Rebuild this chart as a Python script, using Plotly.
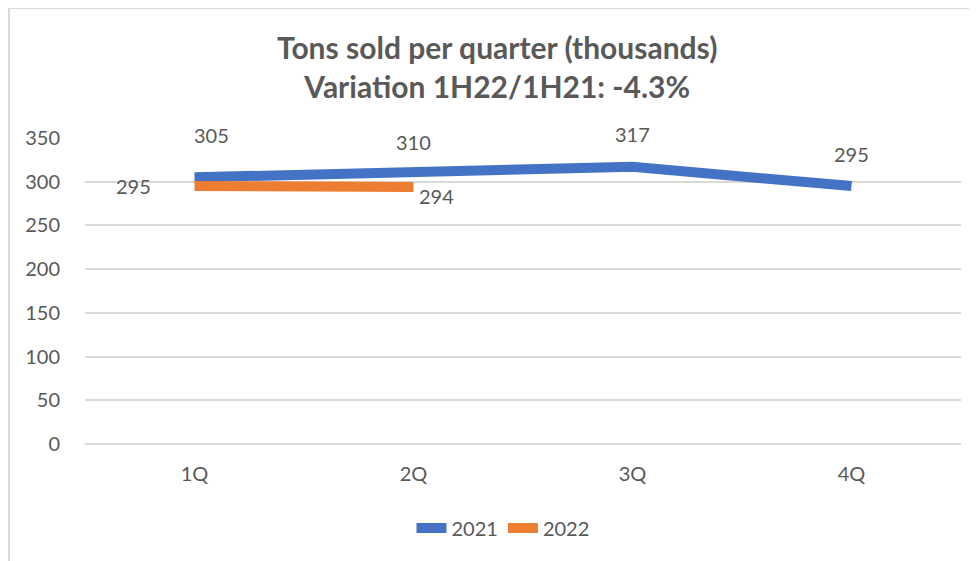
import plotly.graph_objects as go

quarters = ["1Q", "2Q", "3Q", "4Q"]
tons_2021 = [305, 310, 317, 295]
tons_2022 = [295, 294]
# label offsets (px) for data labels
off_2021 = [(17, 42), (0, 31), (0, 33), (0, 32)]
off_2022 = [(-61, 0), (23, -9)]

BLUE = "#4472C4"
ORANGE = "#ED7D31"
GRAY = "#595959"
FONT = "Lato"

fig = go.Figure()
fig.add_trace(go.Scatter(x=quarters, y=tons_2021, mode="lines", name="2021",
                         line=dict(color=BLUE, width=10)))
fig.add_trace(go.Scatter(x=quarters[:len(tons_2022)], y=tons_2022, mode="lines", name="2022",
                         line=dict(color=ORANGE, width=10)))

ann = []
for q, v, (dx, dy) in zip(quarters, tons_2021, off_2021):
    ann.append(dict(x=q, y=v, text=str(v), showarrow=False, xshift=dx, yshift=dy,
                    font=dict(family=FONT, size=20, color=GRAY)))
for q, v, (dx, dy) in zip(quarters, tons_2022, off_2022):
    ann.append(dict(x=q, y=v, text=str(v), showarrow=False, xshift=dx, yshift=dy,
                    font=dict(family=FONT, size=20, color=GRAY)))

# page has an 8px body margin; target pixel coordinates are shifted accordingly
OFF = 8
W, H = 977 - OFF, 561 - OFF
L, T = 85 - OFF, 138 - OFF
pw, ph = 876, 306
R, B = W - L - pw, H - T - ph
x0px, y0px = 85, 444  # reference pixel of plot-left / plot-bottom

ann.append(dict(xref="paper", yref="paper",
                x=(497 - x0px) / pw, y=(y0px - 67) / ph,
                text="<b>Tons sold per quarter (thousands)<br>Variation 1H22/1H21: -4.3%</b>",
                showarrow=False, xanchor="center", yanchor="middle",
                font=dict(family=FONT, size=30, color=GRAY)))

fig.update_layout(
    width=W, height=H,
    margin=dict(l=L, r=R, t=T, b=B),
    paper_bgcolor="white", plot_bgcolor="white",
    font=dict(family=FONT, size=20, color=GRAY),
    annotations=ann,
    showlegend=True,
    legend=dict(orientation="h", x=(503 - x0px) / pw, xanchor="center",
                y=(y0px - 528) / ph, yanchor="middle",
                font=dict(family=FONT, size=20, color=GRAY)),
    shapes=[dict(type="rect", xref="paper", yref="paper",
                 x0=(9 - x0px) / pw, x1=(990 - x0px) / pw,
                 y0=(y0px - 580) / ph, y1=(y0px - 8) / ph,
                 line=dict(color="#D9D9D9", width=2), fillcolor="rgba(0,0,0,0)")],
)
fig.update_xaxes(type="category", range=[-0.5, 3.5], showgrid=False, showline=False,
                 ticks="", ticklabelstandoff=16,
                 tickfont=dict(family=FONT, size=20, color=GRAY))
fig.update_yaxes(range=[0, 350], dtick=50, showgrid=True, gridcolor="#D9D9D9", gridwidth=1.5,
                 zeroline=True, zerolinecolor="#D9D9D9", zerolinewidth=1.5,
                 showline=False, ticks="", ticklabelstandoff=24,
                 tickfont=dict(family=FONT, size=20, color=GRAY))

fig.write_html("out.html")
